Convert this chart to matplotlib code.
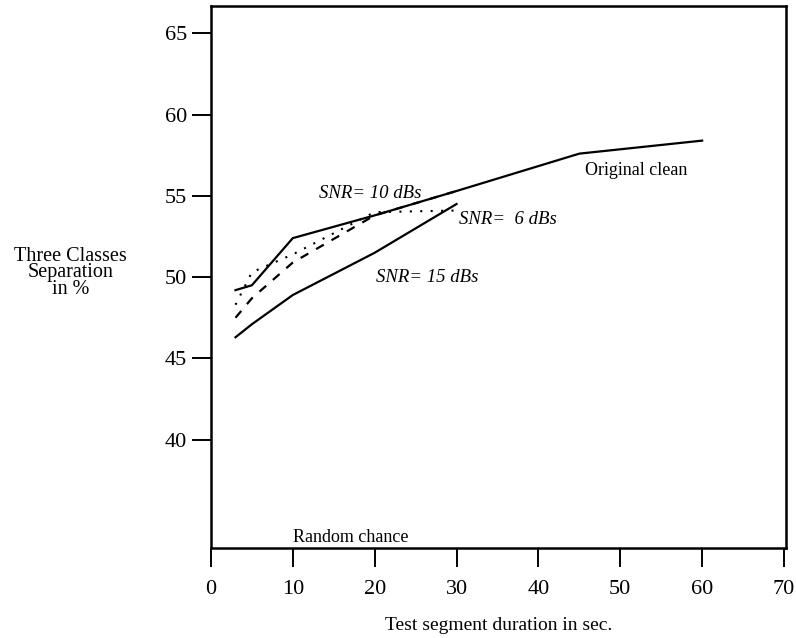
import matplotlib
matplotlib.use("Agg")
import matplotlib.pyplot as plt

plt.rcParams['font.family'] = ['Liberation Serif', 'DejaVu Serif']

# durées de test (s) et taux de séparation (%)
x_clean = [3, 5, 10, 20, 30, 45, 60]
y_clean = [49.2, 49.5, 52.4, 53.8, 55.3, 57.6, 58.4]

x_snr6 = [3, 5, 10, 20, 30]
y_snr6 = [48.3, 50.3, 51.4, 54.0, 54.1]

x_snr10 = [3, 5, 10, 20, 30]
y_snr10 = [47.5, 48.7, 50.9, 53.8, 55.3]

x_snr15 = [3, 5, 10, 20, 30]
y_snr15 = [46.3, 47.1, 48.9, 51.5, 54.5]

x_ticks = [0, 10, 20, 30, 40, 50, 60, 70]
y_ticks = [40, 45, 50, 55, 60, 65]
random_chance = 33.33

fig = plt.figure(figsize=(7.96, 6.38), dpi=100)
ax = fig.add_axes([0.265, 0.141, 0.723, 0.850])

ax.plot(x_clean, y_clean, color='black', lw=1.6)
ax.plot(x_snr6, y_snr6, color='black', lw=1.5, linestyle=(0, (1, 4)))
ax.plot(x_snr10, y_snr10, color='black', lw=1.6, linestyle=(0, (4, 4)))
ax.plot(x_snr15, y_snr15, color='black', lw=1.6)

ax.set_xlim(0, 70.3)
ax.set_ylim(random_chance, 66.7)
ax.set_xticks(x_ticks)
ax.set_yticks(y_ticks)

for s in ax.spines.values():
    s.set_linewidth(1.8)

ax.tick_params(axis='y', direction='out', length=14, width=1.4, pad=3, labelsize=16)
ax.tick_params(axis='x', direction='out', length=14, width=1.4, pad=9, labelsize=16)

# textes dans le graphe
ax.text(51.9, 56.55, 'Original clean', ha='center', va='center', fontsize=13)
ax.text(19.5, 55.15, 'SNR= 10 dBs', ha='center', va='center', fontsize=13.5, style='italic')
ax.text(30.3, 53.55, 'SNR=  6 dBs', ha='left', va='center', fontsize=13.5, style='italic')
ax.text(26.4, 50.0, 'SNR= 15 dBs', ha='center', va='center', fontsize=13.5, style='italic')
ax.text(10.0, random_chance + 0.15, 'Random chance', ha='left', va='bottom', fontsize=13)

ax.set_xlabel('Test segment duration in sec.', fontsize=14, labelpad=13)
fig.text(0.089, 1 - 273 / 638, 'Three Classes\nSeparation\nin %', ha='center', va='center',
         fontsize=14.5, linespacing=0.8, multialignment='center')

plt.savefig('out.png', dpi=100)
